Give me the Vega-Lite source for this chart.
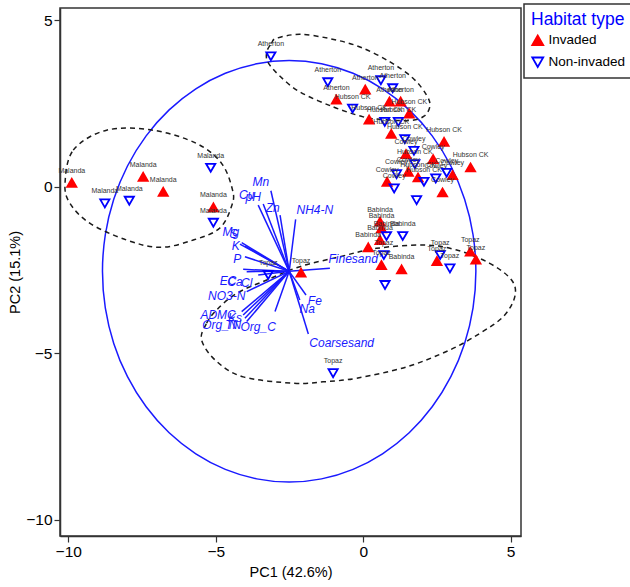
{
  "$schema": "https://vega.github.io/schema/vega-lite/v6.json",
  "autosize": {"type": "none"},
  "padding": {"left": 60, "top": 8, "right": 109, "bottom": 51},
  "width": 461,
  "height": 528,
  "background": "white",
  "config": {
    "view": {"stroke": "#333333", "strokeWidth": 1.5},
    "font": "Liberation Sans",
    "axis": {
      "grid": false, "domainColor": "#333333", "domainWidth": 1.5, "tickColor": "#333333", "tickWidth": 1.2, "tickSize": 6,
      "labelFont": "Liberation Sans", "labelFontSize": 15.5, "labelColor": "#000000", "labelPadding": 2,
      "titleFont": "Liberation Sans", "titleFontSize": 14.5, "titleFontWeight": "normal", "titleColor": "#000000"
    },
    "legend": {
      "orient": "none", "legendX": 464, "legendY": -4, "strokeColor": "#333333", "strokeWidth": 1.5, "padding": 7,
      "titleFont": "Liberation Sans", "titleFontSize": 17.5, "titleFontWeight": "normal", "titleColor": "#0000ff",
      "labelFont": "Liberation Sans", "labelFontSize": 13.5, "labelColor": "#000000", "symbolSize": 120, "symbolStrokeWidth": 1.8, "rowPadding": 4
    }
  },
  "datasets": {
    "circle": [
      {"i":0,"pc1":3.82,"pc2":-2.54},{"i":1,"pc1":3.724,"pc2":-1.441},{"i":2,"pc1":3.438,"pc2":-0.375},{"i":3,"pc1":2.972,"pc2":0.625},
      {"i":4,"pc1":2.339,"pc2":1.529},{"i":5,"pc1":1.559,"pc2":2.309},{"i":6,"pc1":0.655,"pc2":2.942},{"i":7,"pc1":-0.345,"pc2":3.408},
      {"i":8,"pc1":-1.411,"pc2":3.694},{"i":9,"pc1":-2.51,"pc2":3.79},{"i":10,"pc1":-3.609,"pc2":3.694},{"i":11,"pc1":-4.675,"pc2":3.408},
      {"i":12,"pc1":-5.675,"pc2":2.942},{"i":13,"pc1":-6.579,"pc2":2.309},{"i":14,"pc1":-7.359,"pc2":1.529},{"i":15,"pc1":-7.992,"pc2":0.625},
      {"i":16,"pc1":-8.458,"pc2":-0.375},{"i":17,"pc1":-8.744,"pc2":-1.441},{"i":18,"pc1":-8.84,"pc2":-2.54},{"i":19,"pc1":-8.744,"pc2":-3.639},
      {"i":20,"pc1":-8.458,"pc2":-4.705},{"i":21,"pc1":-7.992,"pc2":-5.705},{"i":22,"pc1":-7.359,"pc2":-6.609},{"i":23,"pc1":-6.579,"pc2":-7.389},
      {"i":24,"pc1":-5.675,"pc2":-8.022},{"i":25,"pc1":-4.675,"pc2":-8.488},{"i":26,"pc1":-3.609,"pc2":-8.774},{"i":27,"pc1":-2.51,"pc2":-8.87},
      {"i":28,"pc1":-1.411,"pc2":-8.774},{"i":29,"pc1":-0.345,"pc2":-8.488},{"i":30,"pc1":0.655,"pc2":-8.022},{"i":31,"pc1":1.559,"pc2":-7.389},
      {"i":32,"pc1":2.339,"pc2":-6.609},{"i":33,"pc1":2.972,"pc2":-5.705},{"i":34,"pc1":3.438,"pc2":-4.705},{"i":35,"pc1":3.724,"pc2":-3.639}
    ],
    "ellipses": [
      {"g":"Malanda","i":0,"pc1":-10.11,"pc2":0.10},{"g":"Malanda","i":1,"pc1":-9.83,"pc2":1.10},{"g":"Malanda","i":2,"pc1":-8.70,"pc2":1.70},
      {"g":"Malanda","i":3,"pc1":-7.12,"pc2":1.70},{"g":"Malanda","i":4,"pc1":-5.65,"pc2":1.30},{"g":"Malanda","i":5,"pc1":-4.80,"pc2":0.70},
      {"g":"Malanda","i":6,"pc1":-4.43,"pc2":-0.10},{"g":"Malanda","i":7,"pc1":-4.45,"pc2":-0.55},{"g":"Malanda","i":8,"pc1":-4.86,"pc2":-1.24},
      {"g":"Malanda","i":9,"pc1":-5.76,"pc2":-1.60},{"g":"Malanda","i":10,"pc1":-6.89,"pc2":-1.82},{"g":"Malanda","i":11,"pc1":-8.02,"pc2":-1.60},
      {"g":"Malanda","i":12,"pc1":-9.26,"pc2":-1.10},{"g":"Malanda","i":13,"pc1":-9.94,"pc2":-0.50},
      {"g":"Atherton","i":0,"pc1":-3.27,"pc2":4.05},{"g":"Atherton","i":1,"pc1":-3.11,"pc2":4.31},{"g":"Atherton","i":2,"pc1":-2.94,"pc2":4.46},
      {"g":"Atherton","i":3,"pc1":-2.15,"pc2":4.58},{"g":"Atherton","i":4,"pc1":-1.13,"pc2":4.45},{"g":"Atherton","i":5,"pc1":-0.11,"pc2":4.20},
      {"g":"Atherton","i":6,"pc1":0.91,"pc2":3.75},{"g":"Atherton","i":7,"pc1":1.69,"pc2":3.26},{"g":"Atherton","i":8,"pc1":2.15,"pc2":2.75},
      {"g":"Atherton","i":9,"pc1":2.26,"pc2":2.42},{"g":"Atherton","i":10,"pc1":2.06,"pc2":2.12},{"g":"Atherton","i":11,"pc1":1.58,"pc2":1.99},
      {"g":"Atherton","i":12,"pc1":0.57,"pc2":2.03},{"g":"Atherton","i":13,"pc1":0.00,"pc2":2.10},{"g":"Atherton","i":14,"pc1":-1.02,"pc2":2.40},
      {"g":"Atherton","i":15,"pc1":-2.15,"pc2":2.85},{"g":"Atherton","i":16,"pc1":-2.82,"pc2":3.32},{"g":"Atherton","i":17,"pc1":-3.23,"pc2":3.74},
      {"g":"Topaz","i":0,"pc1":-5.48,"pc2":-4.60},{"g":"Topaz","i":1,"pc1":-5.31,"pc2":-4.10},{"g":"Topaz","i":2,"pc1":-4.97,"pc2":-3.70},
      {"g":"Topaz","i":3,"pc1":-4.29,"pc2":-3.20},{"g":"Topaz","i":4,"pc1":-3.27,"pc2":-2.80},{"g":"Topaz","i":5,"pc1":-2.15,"pc2":-2.40},
      {"g":"Topaz","i":6,"pc1":-0.79,"pc2":-2.10},{"g":"Topaz","i":7,"pc1":0.45,"pc2":-1.85},{"g":"Topaz","i":8,"pc1":2.03,"pc2":-1.75},
      {"g":"Topaz","i":9,"pc1":3.17,"pc2":-1.90},{"g":"Topaz","i":10,"pc1":4.29,"pc2":-2.30},{"g":"Topaz","i":11,"pc1":5.03,"pc2":-2.80},
      {"g":"Topaz","i":12,"pc1":5.14,"pc2":-3.30},{"g":"Topaz","i":13,"pc1":4.75,"pc2":-3.90},{"g":"Topaz","i":14,"pc1":3.96,"pc2":-4.40},
      {"g":"Topaz","i":15,"pc1":2.94,"pc2":-4.90},{"g":"Topaz","i":16,"pc1":1.47,"pc2":-5.41},{"g":"Topaz","i":17,"pc1":-0.22,"pc2":-5.75},
      {"g":"Topaz","i":18,"pc1":-1.36,"pc2":-5.86},{"g":"Topaz","i":19,"pc1":-2.37,"pc2":-5.90},{"g":"Topaz","i":20,"pc1":-4.07,"pc2":-5.71},
      {"g":"Topaz","i":21,"pc1":-4.99,"pc2":-5.23}
    ],
    "loadings": [
      {"v":"Mn","pc1":-3.13,"pc2":-0.12,"lx":-3.47,"ly":0.15},
      {"v":"Cu","pc1":-3.56,"pc2":-0.55,"lx":-3.95,"ly":-0.25},
      {"v":"pH","pc1":-3.39,"pc2":-0.52,"lx":-3.73,"ly":-0.30},
      {"v":"Zn","pc1":-2.82,"pc2":-0.85,"lx":-3.07,"ly":-0.65},
      {"v":"NH4-N","pc1":-2.29,"pc2":-0.98,"lx":-1.64,"ly":-0.70},
      {"v":"Mg","pc1":-4.12,"pc2":-1.68,"lx":-4.49,"ly":-1.35},
      {"v":"S","pc1":-4.18,"pc2":-1.72,"lx":-4.40,"ly":-1.42},
      {"v":"K","pc1":-4.01,"pc2":-1.78,"lx":-4.32,"ly":-1.78},
      {"v":"P","pc1":-4.01,"pc2":-2.10,"lx":-4.27,"ly":-2.18},
      {"v":"EC","pc1":-4.07,"pc2":-2.48,"lx":-4.58,"ly":-2.82},
      {"v":"Ca","pc1":-3.95,"pc2":-2.55,"lx":-4.35,"ly":-2.85},
      {"v":"Cl","pc1":-3.56,"pc2":-2.65,"lx":-3.95,"ly":-2.90},
      {"v":"NO3-N","pc1":-3.95,"pc2":-3.15,"lx":-4.63,"ly":-3.28},
      {"v":"ADMC","pc1":-4.12,"pc2":-3.75,"lx":-4.92,"ly":-3.85},
      {"v":"Ks","pc1":-4.07,"pc2":-3.85,"lx":-4.35,"ly":-3.95},
      {"v":"Org_N","pc1":-4.01,"pc2":-3.95,"lx":-4.86,"ly":-4.15},
      {"v":"TN","pc1":-3.95,"pc2":-4.05,"lx":-4.41,"ly":-4.15},
      {"v":"Org_C","pc1":-2.99,"pc2":-3.75,"lx":-3.56,"ly":-4.20},
      {"v":"Finesand","pc1":-1.13,"pc2":-2.45,"lx":-0.34,"ly":-2.18},
      {"v":"Fe","pc1":-1.94,"pc2":-3.25,"lx":-1.64,"ly":-3.42},
      {"v":"Na","pc1":-2.15,"pc2":-3.40,"lx":-1.90,"ly":-3.68},
      {"v":"Coarsesand","pc1":-1.86,"pc2":-4.42,"lx":-0.73,"ly":-4.68}
    ],
    "samples": [
      {"site":"Malanda","habitat":"Invaded","pc1":-9.88,"pc2":0.12,"label":"Malanda"},
      {"site":"Malanda","habitat":"Non-invaded","pc1":-8.76,"pc2":-0.50,"label":"Malanda"},
      {"site":"Malanda","habitat":"Non-invaded","pc1":-7.93,"pc2":-0.42,"label":"Malanda"},
      {"site":"Malanda","habitat":"Invaded","pc1":-7.46,"pc2":0.30,"label":"Malanda"},
      {"site":"Malanda","habitat":"Invaded","pc1":-6.78,"pc2":-0.15,"label":"Malanda"},
      {"site":"Malanda","habitat":"Non-invaded","pc1":-5.17,"pc2":0.57,"label":"Malanda"},
      {"site":"Malanda","habitat":"Invaded","pc1":-5.08,"pc2":-0.62,"label":"Malanda"},
      {"site":"Malanda","habitat":"Non-invaded","pc1":-5.08,"pc2":-1.08,"label":"Malanda"},
      {"site":"Atherton","habitat":"Non-invaded","pc1":-3.13,"pc2":3.92,"label":"Atherton"},
      {"site":"Atherton","habitat":"Non-invaded","pc1":-1.20,"pc2":3.14,"label":"Atherton"},
      {"site":"Atherton","habitat":"Invaded","pc1":-0.91,"pc2":2.62,"label":"Atherton"},
      {"site":"Atherton","habitat":"Invaded","pc1":0.07,"pc2":2.92,"label":"Atherton"},
      {"site":"Atherton","habitat":"Non-invaded","pc1":0.60,"pc2":3.20,"label":"Atherton"},
      {"site":"Atherton","habitat":"Non-invaded","pc1":1.00,"pc2":2.96,"label":"Atherton"},
      {"site":"Hubson CK","habitat":"Non-invaded","pc1":-0.36,"pc2":2.35,"label":"Hubson CK"},
      {"site":"Atherton","habitat":"Invaded","pc1":0.89,"pc2":2.56,"label":"Atherton"},
      {"site":"Atherton","habitat":"Invaded","pc1":1.27,"pc2":2.56,"label":"Atherton"},
      {"site":"Hubson CK","habitat":"Invaded","pc1":1.56,"pc2":2.20,"label":"Hubson CK"},
      {"site":"Hubson CK","habitat":"Invaded","pc1":0.20,"pc2":2.02,"label":"Hubson CK"},
      {"site":"Hubson CK","habitat":"Non-invaded","pc1":0.73,"pc2":1.95,"label":"Hubson CK"},
      {"site":"Hubson CK","habitat":"Non-invaded","pc1":1.19,"pc2":1.95,"label":"Hubson CK"},
      {"site":"Hubson CK","habitat":"Invaded","pc1":0.95,"pc2":1.59,"label":"Hubson CK"},
      {"site":"Hubson CK","habitat":"Non-invaded","pc1":1.41,"pc2":1.43,"label":"Hubson CK"},
      {"site":"Hubson CK","habitat":"Invaded","pc1":2.74,"pc2":1.35,"label":"Hubson CK"},
      {"site":"Hubson CK","habitat":"Invaded","pc1":3.64,"pc2":0.58,"label":"Hubson CK"},
      {"site":"Cowley","habitat":"Non-invaded","pc1":1.72,"pc2":1.08,"label":"Cowley"},
      {"site":"Cowley","habitat":"Invaded","pc1":1.45,"pc2":0.98,"label":"Cowley"},
      {"site":"Hubson CK","habitat":"Non-invaded","pc1":1.75,"pc2":0.68,"label":"Hubson CK"},
      {"site":"Cowley","habitat":"Invaded","pc1":2.37,"pc2":0.83,"label":"Cowley"},
      {"site":"Cowley","habitat":"Invaded","pc1":1.53,"pc2":0.45,"label":"Cowley"},
      {"site":"Hubson CK","habitat":"Invaded","pc1":1.86,"pc2":0.28,"label":"Hubson CK"},
      {"site":"Cowley","habitat":"Non-invaded","pc1":1.13,"pc2":0.38,"label":"Cowley"},
      {"site":"Cowley","habitat":"Invaded","pc1":0.81,"pc2":0.15,"label":"Cowley"},
      {"site":"Cowley","habitat":"Non-invaded","pc1":1.05,"pc2":-0.05,"label":"Cowley"},
      {"site":"Hubson CK","habitat":"Non-invaded","pc1":2.06,"pc2":0.15,"label":"Hubson CK"},
      {"site":"Cowley","habitat":"Non-invaded","pc1":2.46,"pc2":0.25,"label":"Cowley"},
      {"site":"Cowley","habitat":"Non-invaded","pc1":2.83,"pc2":0.42,"label":"Cowley"},
      {"site":"Cowley","habitat":"Invaded","pc1":3.03,"pc2":0.35,"label":"Cowley"},
      {"site":"Cowley","habitat":"Invaded","pc1":2.69,"pc2":-0.17,"label":"Cowley"},
      {"site":"Hubson CK","habitat":"Non-invaded","pc1":1.81,"pc2":-0.40,"label":""},
      {"site":"Babinda","habitat":"Invaded","pc1":0.57,"pc2":-1.05,"label":"Babinda"},
      {"site":"Babinda","habitat":"Invaded","pc1":0.62,"pc2":-1.25,"label":"Babinda"},
      {"site":"Babinda","habitat":"Non-invaded","pc1":0.79,"pc2":-1.48,"label":"Babinda"},
      {"site":"Babinda","habitat":"Non-invaded","pc1":1.34,"pc2":-1.48,"label":"Babinda"},
      {"site":"Babinda","habitat":"Invaded","pc1":0.57,"pc2":-1.60,"label":"Babinda"},
      {"site":"Babinda","habitat":"Invaded","pc1":0.17,"pc2":-1.82,"label":"Babinda"},
      {"site":"Topaz","habitat":"Non-invaded","pc1":0.70,"pc2":-2.05,"label":"Topaz"},
      {"site":"Topaz","habitat":"Invaded","pc1":0.62,"pc2":-2.35,"label":"Topaz"},
      {"site":"Babinda","habitat":"Invaded","pc1":1.30,"pc2":-2.48,"label":"Babinda"},
      {"site":"Topaz","habitat":"Non-invaded","pc1":0.74,"pc2":-2.95,"label":""},
      {"site":"Topaz","habitat":"Non-invaded","pc1":2.61,"pc2":-2.05,"label":"Topaz"},
      {"site":"Topaz","habitat":"Invaded","pc1":2.50,"pc2":-2.23,"label":"Topaz"},
      {"site":"Topaz","habitat":"Non-invaded","pc1":2.94,"pc2":-2.45,"label":"Topaz"},
      {"site":"Topaz","habitat":"Invaded","pc1":3.63,"pc2":-1.95,"label":"Topaz"},
      {"site":"Topaz","habitat":"Invaded","pc1":3.82,"pc2":-2.19,"label":"Topaz"},
      {"site":"Topaz","habitat":"Non-invaded","pc1":-3.22,"pc2":-2.65,"label":"Topaz"},
      {"site":"Topaz","habitat":"Invaded","pc1":-2.11,"pc2":-2.58,"label":"Topaz"},
      {"site":"Topaz","habitat":"Non-invaded","pc1":-1.02,"pc2":-5.60,"label":"Topaz"}
    ]
  },
  "encoding": {
    "x": {"field": "pc1", "type": "quantitative", "scale": {"domain": [-10.28, 5.35], "nice": false, "zero": false},
          "axis": {"values": [-10, -5, 0, 5], "title": "PC1 (42.6%)", "titlePadding": 6}},
    "y": {"field": "pc2", "type": "quantitative", "scale": {"domain": [-10.49, 5.37], "nice": false, "zero": false},
          "axis": {"values": [-10, -5, 0, 5], "title": "PC2 (15.1%)", "titlePadding": 3}}
  },
  "layer": [
    {
      "data": {"name": "circle"},
      "mark": {"type": "line", "interpolate": "cardinal-closed", "color": "#1a1aff", "strokeWidth": 1.5},
      "encoding": {"order": {"field": "i", "type": "quantitative"}}
    },
    {
      "data": {"name": "ellipses"},
      "mark": {"type": "line", "interpolate": "cardinal-closed", "color": "#1a1a1a", "strokeWidth": 1.5, "strokeDash": [5, 4]},
      "encoding": {"detail": {"field": "g", "type": "nominal"}, "order": {"field": "i", "type": "quantitative"}}
    },
    {
      "data": {"name": "loadings"},
      "mark": {"type": "rule", "color": "#1a1aff", "strokeWidth": 1.5},
      "encoding": {"x2": {"datum": -2.51}, "y2": {"datum": -2.54}}
    },
    {
      "data": {"name": "loadings"},
      "mark": {"type": "text", "color": "#1a1aff", "fontSize": 12, "fontStyle": "italic", "font": "Liberation Sans", "align": "center", "baseline": "middle"},
      "encoding": {
        "x": {"field": "lx", "type": "quantitative"},
        "y": {"field": "ly", "type": "quantitative"},
        "text": {"field": "v", "type": "nominal"}
      }
    },
    {
      "data": {"name": "samples"},
      "mark": {"type": "point", "filled": true, "size": 85, "strokeWidth": 1.8, "opacity": 1},
      "encoding": {
        "shape": {"field": "habitat", "type": "nominal", "title": "Habitat type", "scale": {"domain": ["Invaded", "Non-invaded"], "range": ["triangle-up", "triangle-down"]}},
        "fill": {"field": "habitat", "type": "nominal", "title": "Habitat type", "scale": {"domain": ["Invaded", "Non-invaded"], "range": ["#ff0000", "transparent"]}},
        "stroke": {"field": "habitat", "type": "nominal", "title": "Habitat type", "scale": {"domain": ["Invaded", "Non-invaded"], "range": ["#ff0000", "#0000ff"]}}
      }
    },
    {
      "data": {"name": "samples"},
      "mark": {"type": "text", "fontSize": 7, "color": "#333333", "font": "Liberation Sans", "dy": -12, "align": "center", "baseline": "middle"},
      "encoding": {"text": {"field": "label", "type": "nominal"}}
    }
  ]
}
